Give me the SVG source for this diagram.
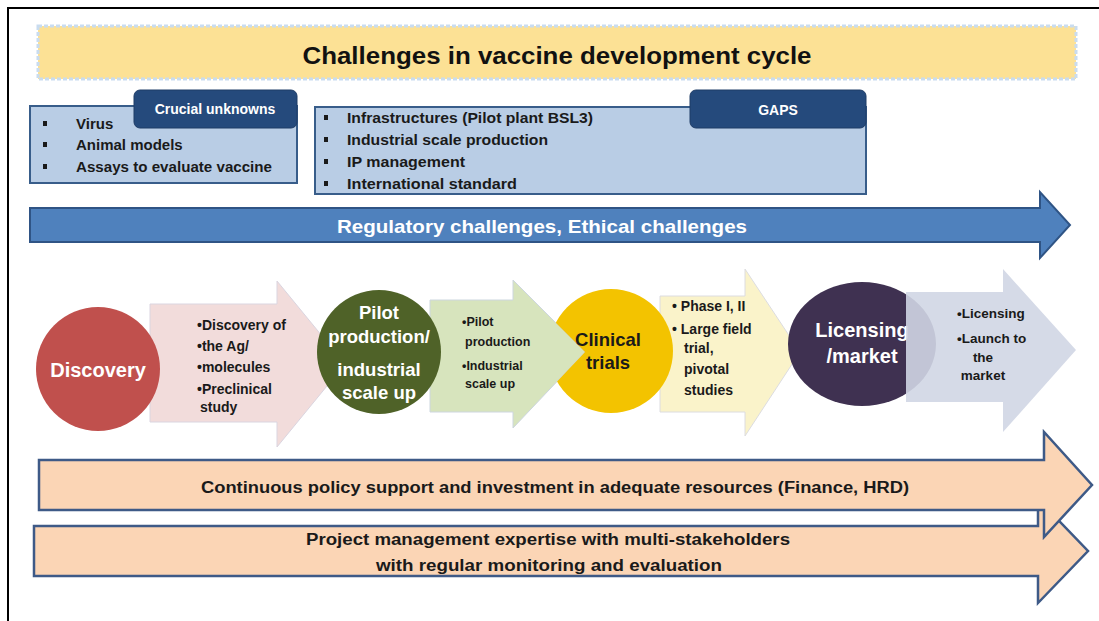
<svg xmlns="http://www.w3.org/2000/svg" width="1099" height="621" viewBox="0 0 1099 621">
<defs>
<style>
text{font-family:"Liberation Sans",Arial,sans-serif;font-weight:bold}
.box{fill:#B9CDE5;stroke:#385D8A;stroke-width:2}
.tab{fill:#254A7C;stroke:#1F3C66;stroke-width:1}
.tabt{fill:#fff;font-size:14px;text-anchor:middle}
.item{fill:#1a1a1a;font-size:15px}
.bul{fill:#1a1a1a}
.band{fill:#FBD5B5;stroke:#3E5A87;stroke-width:2.5}
.bandt{fill:#1a1a1a;font-size:16px;text-anchor:middle}
.wt{fill:#fff;text-anchor:middle}
.dk{fill:#1a1a1a;text-anchor:middle}
.st{fill:#1a1a1a}
</style>
<mask id="notch" maskUnits="userSpaceOnUse" x="0" y="0" width="1099" height="621">
<rect x="0" y="0" width="1099" height="621" fill="#fff"/>
<polygon points="430,300 513,300 513,280 585,352 513,428 513,412 430,412" fill="#000"/>
</mask>
</defs>
<rect x="0" y="0" width="1099" height="621" fill="#fff"/>
<path d="M8,621 V8 H1099" fill="none" stroke="#000" stroke-width="2"/>

<g id="title">
<rect x="38" y="26" width="1038" height="53" fill="#FCE195" stroke="#C9DCEF" stroke-width="3" stroke-dasharray="4 2"/>
<text x="557" y="64" font-size="24" text-anchor="middle" fill="#111" textLength="509" lengthAdjust="spacingAndGlyphs">Challenges in vaccine development cycle</text>
</g>

<g id="crucial-unknowns">
<rect class="box" x="30" y="106" width="267" height="77"/>
<rect class="tab" x="134" y="90" width="163" height="38" rx="6"/>
<text class="tabt" x="215" y="114">Crucial unknowns</text>
<rect class="bul" x="43" y="121" width="4" height="5"/>
<rect class="bul" x="43" y="142" width="4" height="5"/>
<rect class="bul" x="43" y="164" width="4" height="5"/>
<text class="item" x="76" y="129">Virus</text>
<text class="item" x="76" y="150">Animal models</text>
<text class="item" x="76" y="172" textLength="196" lengthAdjust="spacingAndGlyphs">Assays to evaluate vaccine</text>
</g>

<g id="gaps">
<rect class="box" x="315" y="107" width="551" height="87"/>
<rect class="tab" x="690" y="90" width="176" height="38" rx="6"/>
<text class="tabt" x="778" y="115">GAPS</text>
<rect class="bul" x="324" y="115" width="4" height="5"/>
<rect class="bul" x="324" y="137" width="4" height="5"/>
<rect class="bul" x="324" y="159" width="4" height="5"/>
<rect class="bul" x="324" y="181" width="4" height="5"/>
<text class="item" x="347" y="123" textLength="246" lengthAdjust="spacingAndGlyphs">Infrastructures (Pilot plant BSL3)</text>
<text class="item" x="347" y="145" textLength="201" lengthAdjust="spacingAndGlyphs">Industrial scale production</text>
<text class="item" x="347" y="167" textLength="118" lengthAdjust="spacingAndGlyphs">IP management</text>
<text class="item" x="347" y="189" textLength="170" lengthAdjust="spacingAndGlyphs">International standard</text>
</g>

<g id="regulatory">
<polygon points="30,208 1040,208 1040,192 1070,225 1040,258 1040,242 30,242" fill="#4F81BD" stroke="#2F5485" stroke-width="2"/>
<text class="wt" x="542" y="233" font-size="19" textLength="410" lengthAdjust="spacingAndGlyphs">Regulatory challenges, Ethical challenges</text>
</g>

<g id="connectors">
<g id="arrow-discovery">
<polygon points="150,304 277,304 277,281 345,364 277,447 277,422 150,422" fill="#F2DCDB" stroke="#DAD5E0" stroke-width="1"/>
<text class="st" font-size="14"><tspan x="197" y="330">•Discovery of</tspan><tspan x="197" y="351">•the Ag/</tspan><tspan x="197" y="372">•molecules</tspan><tspan x="197" y="394">•Preclinical</tspan><tspan x="200" y="412">study</tspan></text>
</g>
<g id="arrow-pilot">
<polygon points="430,300 513,300 513,280 585,352 513,428 513,412 430,412" fill="#D7E4BD" stroke="#CDD6DF" stroke-width="1"/>
<text class="st" font-size="12.5"><tspan x="462" y="326">•Pilot</tspan><tspan x="465" y="346">production</tspan><tspan x="462" y="370">•Industrial</tspan><tspan x="465" y="388">scale up</tspan></text>
</g>
<g id="arrow-clinical">
<polygon points="660,296 745,296 745,269 800,352 745,436 745,412 660,412" fill="#FAF3CA" stroke="#DCDCE0" stroke-width="1"/>
<text class="st" font-size="14"><tspan x="672" y="311">• Phase I, II</tspan><tspan x="672" y="334">• Large field</tspan><tspan x="684" y="353">trial,</tspan><tspan x="684" y="374">pivotal</tspan><tspan x="684" y="395">studies</tspan></text>
</g>
</g>

<g id="node-discovery">
<circle cx="98" cy="369" r="62" fill="#C0504D"/>
<text class="wt" x="98" y="377" font-size="20">Discovery</text>
</g>

<g id="node-pilot">
<circle cx="379" cy="352" r="62" fill="#4F6228"/>
<text class="wt" font-size="18.5"><tspan x="379" y="319">Pilot</tspan><tspan x="379" y="343">production/</tspan><tspan x="379" y="376">industrial</tspan><tspan x="379" y="399">scale up</tspan></text>
</g>

<g id="node-clinical">
<circle cx="611" cy="351" r="62" fill="#F3C300" mask="url(#notch)"/>
<text class="dk" font-size="18.5"><tspan x="608" y="346">Clinical</tspan><tspan x="608" y="369">trials</tspan></text>
</g>

<g id="node-licensing">
<ellipse cx="862" cy="344" rx="74" ry="62" fill="#3F3151"/>
<text class="wt" font-size="20"><tspan x="862" y="337">Licensing</tspan><tspan x="862" y="363">/market</tspan></text>
</g>

<g id="arrow-licensing">
<polygon points="906,292 1003,292 1003,269 1076,350 1003,432 1003,402 906,402" fill="#D0D6E4" fill-opacity="0.9"/>
<text class="st" font-size="13.5"><tspan x="957" y="318">•Licensing</tspan><tspan x="957" y="343">•Launch to</tspan><tspan x="983" y="362" text-anchor="middle">the</tspan><tspan x="983" y="380" text-anchor="middle">market</tspan></text>
</g>

<g id="project-band">
<polygon class="band" points="34,526 1038,526 1038,499 1088,551 1038,603 1038,576 34,576"/>
<text class="bandt" x="548" y="545" textLength="484" lengthAdjust="spacingAndGlyphs">Project management expertise with multi-stakeholders</text>
<text class="bandt" x="549" y="571" textLength="346" lengthAdjust="spacingAndGlyphs">with regular monitoring and evaluation</text>
</g>

<g id="policy-band">
<polygon class="band" points="39,460 1044,460 1044,432 1092,485 1044,537 1044,510 39,510"/>
<text class="bandt" x="555" y="493" textLength="708" lengthAdjust="spacingAndGlyphs">Continuous policy support and investment in adequate resources (Finance, HRD)</text>
</g>
</svg>
